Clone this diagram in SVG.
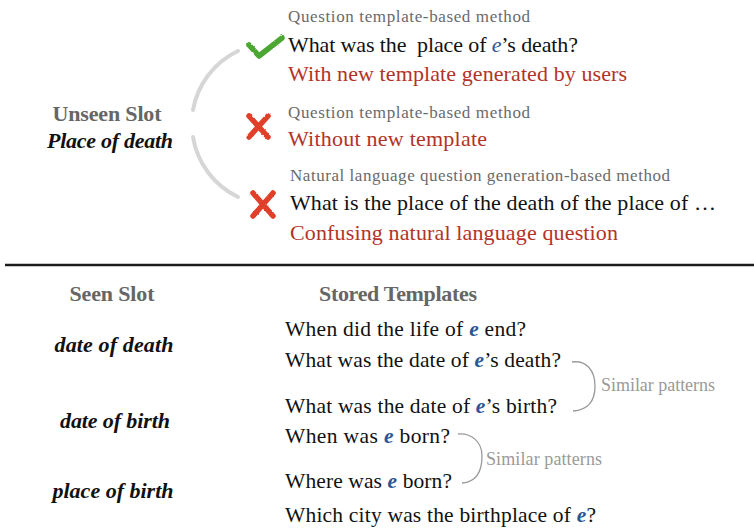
<svg xmlns="http://www.w3.org/2000/svg" width="754" height="529" viewBox="0 0 754 529">
  <defs>
    <style>
      text { font-family: "Liberation Serif", "DejaVu Serif", serif; }
      .meth { font-size: 17px; fill: #6a6a6a; }
      .q { font-size: 22px; fill: #111; }
      .bad { font-size: 22px; fill: #b23327; }
      .head { font-size: 22px; font-weight: bold; fill: #666; }
      .slot { font-size: 22px; font-weight: bold; font-style: italic; fill: #111; }
      .tpl { font-size: 21.5px; fill: #111; }
      .e { fill: #2d5594; font-style: italic; }
      .eb { fill: #2d5594; font-style: italic; font-weight: bold; }
      .sim { font-size: 18px; fill: #9a9a9a; }
      .arc { fill: none; stroke: #d6d6d6; stroke-width: 4; stroke-linecap: round; }
      .brace { fill: none; stroke: #9a9a9a; stroke-width: 1.3; }
      .ok { fill: none; stroke: #4ba631; stroke-width: 5.5; stroke-linecap: round; stroke-linejoin: round; }
      .no { fill: none; stroke: #e0402b; stroke-width: 5.5; stroke-linecap: round; }
    </style>
    <filter id="rough" x="-20%" y="-20%" width="140%" height="140%">
      <feTurbulence type="fractalNoise" baseFrequency="0.9" numOctaves="1" seed="3" result="n"/>
      <feDisplacementMap in="SourceGraphic" in2="n" scale="2.5" xChannelSelector="R" yChannelSelector="G"/>
    </filter>
    <filter id="rough-line" filterUnits="userSpaceOnUse" x="0" y="258" width="754" height="14">
      <feTurbulence type="fractalNoise" baseFrequency="0.7" numOctaves="1" seed="7" result="n"/>
      <feDisplacementMap in="SourceGraphic" in2="n" scale="1.4" xChannelSelector="R" yChannelSelector="G"/>
    </filter>
  </defs>

  <!-- upper panel: unseen slot -->
  <g id="unseen-slot">
    <text class="head" x="107" y="121" text-anchor="middle" textLength="109">Unseen Slot</text>
    <text class="slot" x="110" y="148" text-anchor="middle" textLength="126">Place of death</text>
  </g>

  <g id="connectors">
    <!-- arc joining the slot to the three methods -->
    <path class="arc" d="M238,51 A81,81 0 0 0 193,110"/>
    <path class="arc" d="M193,137 A81,81 0 0 0 238,197"/>
    <!-- similar-pattern brackets -->
    <path class="brace" d="M572,362 C586,360 595,370 595,386 C595,402 588,410 573,411"/>
    <path class="brace" d="M458,434 C472,433 482,442 482,456 C482,472 476,482 462,483"/>
  </g>

  <g id="method-template-new">
    <path class="ok" filter="url(#rough)" d="M249,45 L259,56 L282,38"/>
    <text class="meth" x="288" y="22" textLength="242">Question template-based method</text>
    <text class="q" x="288" y="52" textLength="290" xml:space="preserve">What was the  place of <tspan class="e">e</tspan>’s death?</text>
    <text class="bad" x="288" y="81" textLength="339">With new template generated by users</text>
  </g>

  <g id="method-template-none">
    <g filter="url(#rough)">
      <path class="no" d="M249,116 L268,137"/>
      <path class="no" d="M268,116 L249,137"/>
    </g>
    <text class="meth" x="288" y="118" textLength="242">Question template-based method</text>
    <text class="bad" x="288" y="146" textLength="199">Without new template</text>
  </g>

  <g id="method-nlg">
    <g filter="url(#rough)">
      <path class="no" d="M253,193 L273,216"/>
      <path class="no" d="M273,193 L253,216"/>
    </g>
    <text class="meth" x="290" y="181" textLength="380">Natural language question generation-based method</text>
    <text class="q" x="290" y="210" textLength="426">What is the place of the death of the place of …</text>
    <text class="bad" x="290" y="240" textLength="328">Confusing natural language question</text>
  </g>

  <!-- rough divider -->
  <path id="divider" d="M5,265 L754,265" fill="none" stroke="#1a1a1a" stroke-width="2.6" filter="url(#rough-line)"/>

  <!-- lower panel: seen slots and stored templates -->
  <g id="headers">
    <text class="head" x="112" y="301" text-anchor="middle" textLength="85">Seen Slot</text>
    <text class="head" x="319" y="301" textLength="158">Stored Templates</text>
  </g>

  <g id="slot-date-of-death">
    <text class="slot" x="114" y="352" text-anchor="middle" textLength="119">date of death</text>
    <text class="tpl" x="285" y="336" textLength="241">When did the life of <tspan class="eb">e</tspan> end?</text>
    <text class="tpl" x="285" y="367" textLength="276">What was the date of <tspan class="eb">e</tspan>’s death?</text>
  </g>

  <g id="slot-date-of-birth">
    <text class="slot" x="115" y="428" text-anchor="middle" textLength="110">date of birth</text>
    <text class="tpl" x="285" y="413" textLength="272">What was the date of <tspan class="eb">e</tspan>’s birth?</text>
    <text class="tpl" x="285" y="443" textLength="165">When was <tspan class="eb">e</tspan> born?</text>
  </g>

  <g id="slot-place-of-birth">
    <text class="slot" x="113" y="498" text-anchor="middle" textLength="121">place of birth</text>
    <text class="tpl" x="285" y="488" textLength="167">Where was <tspan class="eb">e</tspan> born?</text>
    <text class="tpl" x="285" y="522" textLength="311">Which city was the birthplace of <tspan class="eb">e</tspan>?</text>
  </g>

  <g id="similar-labels">
    <text class="sim" x="601" y="391" textLength="114">Similar patterns</text>
    <text class="sim" x="486" y="465" textLength="116">Similar patterns</text>
  </g>
</svg>
